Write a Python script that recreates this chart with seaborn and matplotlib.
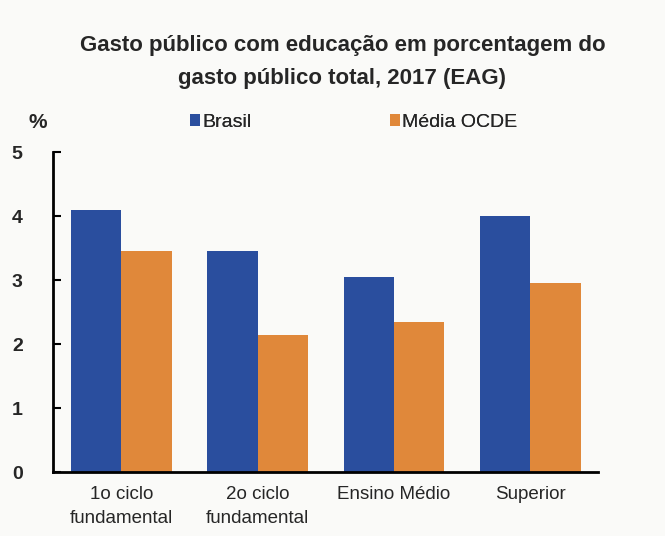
import matplotlib
matplotlib.use("Agg")
import matplotlib.pyplot as plt
import seaborn as sns
import pandas as pd
from matplotlib.ticker import FixedLocator
from matplotlib.patches import Patch

categories = ["1o ciclo\nfundamental", "2o ciclo\nfundamental", "Ensino Médio", "Superior"]
series = ["Brasil", "Média OCDE"]
brasil = [4.1, 3.45, 3.05, 4.0]
ocde = [3.45, 2.15, 2.35, 2.95]
yticks = [0, 1, 2, 3, 4, 5]
title = "Gasto público com educação em porcentagem do\ngasto público total, 2017 (EAG)"
colors = ["#2A4E9E", "#E0883A"]

df = pd.DataFrame({
    "cat": categories * 2,
    "serie": [series[0]] * 4 + [series[1]] * 4,
    "val": brasil + ocde,
})

sns.set_theme(style="white")
fam = ["Liberation Sans", "DejaVu Sans"]
plt.rcParams["font.family"] = fam

fig = plt.figure(figsize=(6.65, 5.36), dpi=100)
fig.patch.set_facecolor("#FAFAF8")
ax = fig.add_axes([0.08, 0.119, 0.82, 0.597])
ax.set_facecolor("#FAFAF8")

sns.barplot(data=df, x="cat", y="val", hue="serie", palette=colors,
            width=0.74, saturation=1, ax=ax, legend=False,
            edgecolor="none", linewidth=0)

ax.set_ylim(0, 5)
ax.set_xlim(-0.5, 3.5)
ax.set_yticks(yticks)
ax.set_yticklabels([str(t) for t in yticks], fontsize=14, fontweight="bold")
ax.set_xlabel("")
ax.set_ylabel("")
ax.set_xticks(range(len(categories)))
ax.set_xticklabels(categories, fontsize=13.5, linespacing=1.55)
ax.xaxis.set_minor_locator(FixedLocator([0.5, 1.5, 2.5, 3.5]))
ax.tick_params(axis="x", which="major", length=0, pad=10)
ax.tick_params(axis="x", which="minor", direction="in", length=4, width=1.5, color="black")
ax.tick_params(axis="y", direction="in", length=6, width=1.5, color="black", pad=22, left=True)

for s in ["top", "right"]:
    ax.spines[s].set_visible(False)
for s in ["left", "bottom"]:
    ax.spines[s].set_color("black")
    ax.spines[s].set_linewidth(2)

fig.text(0.515, 0.884, title, ha="center", va="center", fontsize=16,
         fontweight="bold", linespacing=1.75)
fig.text(0.057, 0.772, "%", ha="center", va="center", fontsize=15, fontweight="bold")

for i, (name, c, xpos) in enumerate(zip(series, colors, [0.285, 0.586])):
    h = [Patch(facecolor=c, edgecolor="none")]
    lg = fig.legend(h, [name], loc="center left", bbox_to_anchor=(xpos, 0.772),
                    frameon=False, fontsize=14, handlelength=0.55, handleheight=0.55,
                    handletextpad=0.1, borderpad=0, borderaxespad=0)
    fig.add_artist(lg)

fig.savefig("out.png", dpi=100, facecolor=fig.get_facecolor())
